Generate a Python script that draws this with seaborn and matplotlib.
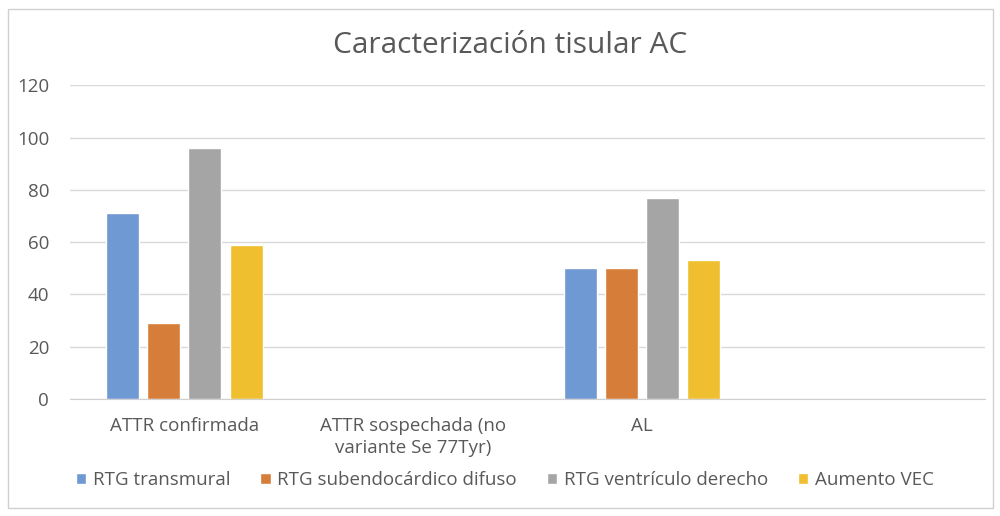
import numpy as np
import pandas as pd
import seaborn as sns
import matplotlib.pyplot as plt
from matplotlib.patches import Rectangle

categorias = ["ATTR confirmada", "ATTR sospechada (no\nvariante Se 77Tyr)", "AL", ""]
series = ["RTG transmural", "RTG subendocárdico difuso", "RTG ventrículo derecho", "Aumento VEC"]
rtg_transmural = [71, np.nan, 50, np.nan]
rtg_subendo = [29, np.nan, 50, np.nan]
rtg_vd = [96, np.nan, 77, np.nan]
aumento_vec = [59, np.nan, 53, np.nan]
colores = ["#6f99d3", "#d77d3a", "#a5a5a5", "#f0bf2f"]

df = pd.DataFrame({
    "cat": categorias * 4,
    "serie": np.repeat(series, 4),
    "valor": rtg_transmural + rtg_subendo + rtg_vd + aumento_vec,
})

sns.set_style("white")
plt.rcParams['font.family'] = ['Open Sans', 'DejaVu Sans']

fig = plt.figure(figsize=(10, 5.16), dpi=100)
ax = fig.add_axes([0.07, 0.2267, 0.915, 0.608])

sns.barplot(data=df, x="cat", y="valor", hue="serie", order=categorias,
            hue_order=series, palette=colores, width=0.72, gap=0.2,
            saturation=1, ax=ax, legend=True)

ax.set_ylim(0, 120)
ax.set_yticks(range(0, 121, 20))
ax.set_xlim(-0.5, 3.5)
ax.yaxis.grid(True, color="#d9d9d9", lw=1)
ax.set_axisbelow(True)
for s in ["top", "right", "left"]:
    ax.spines[s].set_visible(False)
ax.spines["bottom"].set_color("#d0d0d0")
ax.tick_params(axis="both", length=0, labelsize=13.5, colors="#595959")
ax.tick_params(axis="y", pad=15)
ax.tick_params(axis="x", pad=13)
for t in ax.get_xticklabels():
    t.set_linespacing(1.3)
ax.set_xlabel("")
ax.set_ylabel("")

handles, labels = ax.get_legend_handles_labels()
ax.get_legend().remove()
fig.legend(handles, labels, loc="center", bbox_to_anchor=(0.505, 0.07), ncol=4,
           frameon=False, fontsize=13.5, handlelength=0.55, handleheight=0.55,
           handletextpad=0.35, columnspacing=1.6, labelcolor="#595959")

fig.text(0.51, 0.912, "Caracterización tisular AC", ha="center", va="center",
         fontsize=21.5, color="#595959")

fig.patches.append(Rectangle((0.008, 0.015), 0.985, 0.968, transform=fig.transFigure,
                             fill=False, edgecolor="#d0d0d0", lw=1))

fig.savefig("out.png", dpi=100)
